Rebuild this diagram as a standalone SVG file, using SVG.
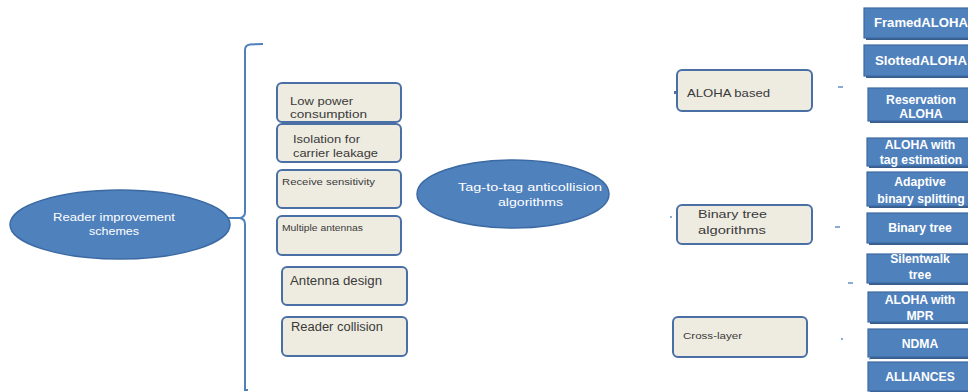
<svg xmlns="http://www.w3.org/2000/svg" width="968" height="392" viewBox="0 0 968 392">
<style>
.ell{fill:#4F81BD;stroke:#3C6AA3;stroke-width:1.5}
.bx{fill:#EEECE1;stroke:#4A6FA5;stroke-width:2}
.bt{font-family:"Liberation Sans","Open Sans",sans-serif;fill:#3a3a3a}
.wt{font-family:"Liberation Sans","Open Sans",sans-serif;fill:#ffffff}
.rb{fill:#4F81BD;stroke:#3D69A0;stroke-width:1.2}
.rs{fill:#385D8A}
.rt{font-family:"Liberation Sans","Open Sans",sans-serif;fill:#ffffff;font-weight:bold;font-size:12.2px;text-anchor:middle}
.mk{fill:#8AAAD6}
.mkd{fill:#4A6FA5}
</style>
<rect width="968" height="392" fill="#ffffff"/>
<g id="connectors" fill="none" stroke="#4F81BD" stroke-width="2">
<path d="M263,44 L250,44.5 Q245,45 245,50 L245,212 Q245,217 240,218 L222,218 M240,218 Q245,219 245,224 L245,390 L248,390"/>
<rect class="mk" x="838" y="86" width="5" height="2" stroke="none"/>
<rect class="mkd" x="674" y="91" width="2" height="3" stroke="none"/>
<rect class="mk" x="670" y="216" width="2" height="2" stroke="none"/>
<rect class="mk" x="835" y="226" width="5" height="2" stroke="none"/>
<rect class="mk" x="848" y="282" width="5" height="2" stroke="none"/>
<rect class="mkd" x="672" y="337" width="2" height="3" stroke="none"/>
<rect class="mk" x="841" y="338" width="2" height="2" stroke="none"/>
<rect class="mk" x="869" y="358" width="1.5" height="1.5" stroke="none"/>
</g>
<g id="reader-improvement">
<ellipse class="ell" cx="120" cy="224.5" rx="110" ry="34.5"/>
<text class="wt" font-size="10.5" x="53" y="221" textLength="122" lengthAdjust="spacingAndGlyphs">Reader improvement</text>
<text class="wt" font-size="10.5" x="89" y="235" textLength="50" lengthAdjust="spacingAndGlyphs">schemes</text>
</g>
<g id="low-power">
<rect class="bx" x="277" y="83" width="124" height="39" rx="5"/>
<text class="bt" font-size="11" x="290" y="105" textLength="63" lengthAdjust="spacingAndGlyphs">Low power</text>
<text class="bt" font-size="11" x="290" y="118" textLength="77" lengthAdjust="spacingAndGlyphs">consumption</text>
</g>
<g id="isolation">
<rect class="bx" x="277" y="124" width="124" height="38" rx="5"/>
<text class="bt" font-size="11" x="293" y="143" textLength="67" lengthAdjust="spacingAndGlyphs">Isolation for</text>
<text class="bt" font-size="11" x="293" y="157" textLength="85" lengthAdjust="spacingAndGlyphs">carrier leakage</text>
</g>
<g id="receive-sensitivity">
<rect class="bx" x="277" y="170" width="124" height="38" rx="5"/>
<text class="bt" font-size="9.5" x="282" y="185" textLength="93" lengthAdjust="spacingAndGlyphs">Receive sensitivity</text>
</g>
<g id="multiple-antennas">
<rect class="bx" x="277" y="216" width="124" height="39" rx="5"/>
<text class="bt" font-size="8.5" x="282" y="231" textLength="81" lengthAdjust="spacingAndGlyphs">Multiple antennas</text>
</g>
<g id="antenna-design">
<rect class="bx" x="282" y="267" width="125" height="38" rx="5"/>
<text class="bt" font-size="12" x="290" y="285" textLength="92" lengthAdjust="spacingAndGlyphs">Antenna design</text>
</g>
<g id="reader-collision">
<rect class="bx" x="282" y="317" width="125" height="39" rx="5"/>
<text class="bt" font-size="12" x="291" y="331" textLength="92" lengthAdjust="spacingAndGlyphs">Reader collision</text>
</g>
<g id="tag-to-tag">
<ellipse class="ell" cx="513" cy="194" rx="96" ry="34"/>
<text class="wt" font-size="11" x="458" y="191" textLength="144" lengthAdjust="spacingAndGlyphs">Tag-to-tag anticollision</text>
<text class="wt" font-size="11" x="498" y="206" textLength="65" lengthAdjust="spacingAndGlyphs">algorithms</text>
</g>
<g id="aloha-based">
<rect class="bx" x="677" y="70" width="135" height="41" rx="5"/>
<text class="bt" font-size="11" x="687" y="97" textLength="83" lengthAdjust="spacingAndGlyphs">ALOHA based</text>
</g>
<g id="binary-tree-algorithms">
<rect class="bx" x="677" y="205" width="135" height="39" rx="5"/>
<text class="bt" font-size="11" x="698" y="218" textLength="69" lengthAdjust="spacingAndGlyphs">Binary tree</text>
<text class="bt" font-size="11" x="698" y="234" textLength="68" lengthAdjust="spacingAndGlyphs">algorithms</text>
</g>
<g id="cross-layer">
<rect class="bx" x="673" y="317" width="134" height="40" rx="5"/>
<text class="bt" font-size="9.5" x="683" y="339" textLength="59" lengthAdjust="spacingAndGlyphs">Cross-layer</text>
</g>
<g id="framed-aloha">
<rect class="rs" x="866" y="10" width="110" height="30"/>
<rect class="rb" x="864" y="8" width="110" height="30"/>
<text class="rt" x="921" y="27" textLength="94" lengthAdjust="spacingAndGlyphs">FramedALOHA</text>
</g>
<g id="slotted-aloha">
<rect class="rs" x="866" y="47" width="110" height="31"/>
<rect class="rb" x="864" y="45" width="110" height="31"/>
<text class="rt" x="921" y="65" textLength="92" lengthAdjust="spacingAndGlyphs">SlottedALOHA</text>
</g>
<g id="reservation-aloha">
<rect class="rs" x="870" y="90" width="110" height="33"/>
<rect class="rb" x="868" y="88" width="110" height="33"/>
<text class="rt" x="921" y="104">Reservation</text>
<text class="rt" x="921" y="118">ALOHA</text>
</g>
<g id="aloha-tag-estimation">
<rect class="rs" x="869" y="140" width="110" height="28"/>
<rect class="rb" x="867" y="138" width="110" height="28"/>
<text class="rt" x="920" y="149">ALOHA with</text>
<text class="rt" x="921" y="164">tag estimation</text>
</g>
<g id="adaptive-binary-splitting">
<rect class="rs" x="869" y="174" width="110" height="34"/>
<rect class="rb" x="867" y="172" width="110" height="34"/>
<text class="rt" x="920" y="186">Adaptive</text>
<text class="rt" x="921" y="203">binary splitting</text>
</g>
<g id="binary-tree">
<rect class="rs" x="869" y="215" width="110" height="30"/>
<rect class="rb" x="867" y="213" width="110" height="30"/>
<text class="rt" x="920" y="232">Binary tree</text>
</g>
<g id="silentwalk-tree">
<rect class="rs" x="869" y="256" width="110" height="29"/>
<rect class="rb" x="867" y="254" width="110" height="29"/>
<text class="rt" x="920" y="263">Silentwalk</text>
<text class="rt" x="920" y="279">tree</text>
</g>
<g id="aloha-mpr">
<rect class="rs" x="870" y="294" width="110" height="30"/>
<rect class="rb" x="868" y="292" width="110" height="30"/>
<text class="rt" x="920" y="304">ALOHA with</text>
<text class="rt" x="920" y="320">MPR</text>
</g>
<g id="ndma">
<rect class="rs" x="870" y="331" width="110" height="28"/>
<rect class="rb" x="868" y="329" width="110" height="28"/>
<text class="rt" x="920" y="348">NDMA</text>
</g>
<g id="alliances">
<rect class="rs" x="870" y="364" width="110" height="29"/>
<rect class="rb" x="868" y="362" width="110" height="29"/>
<text class="rt" x="920" y="381">ALLIANCES</text>
</g>
</svg>
